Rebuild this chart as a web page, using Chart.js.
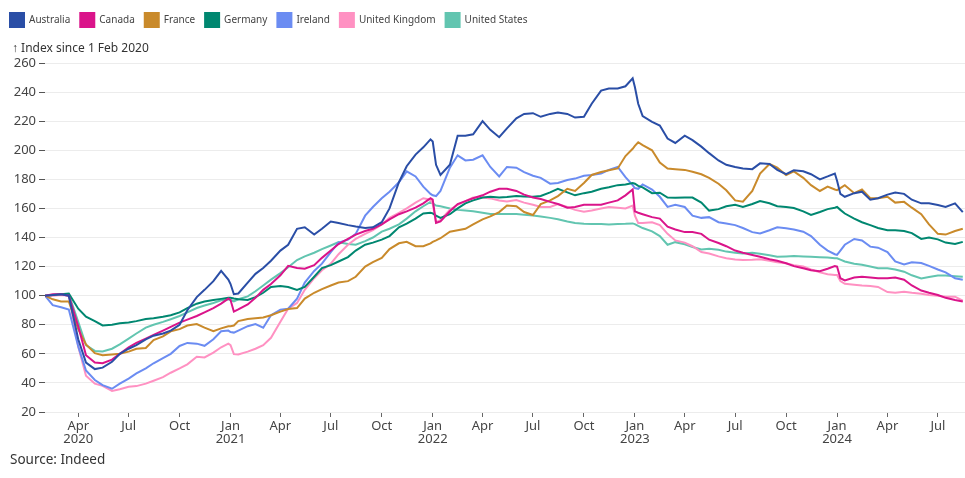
<!DOCTYPE html>
<html>
<head>
<meta charset="utf-8">
<script src="https://cdn.jsdelivr.net/npm/chart.js@4.4.1/dist/chart.umd.min.js"></script>
<style>
  html, body { margin: 0; padding: 0; background: #fff; }
  #wrap { width: 965px; height: 478px; position: relative; }
</style>
</head>
<body>
<div id="wrap"><canvas id="grafik"></canvas></div>
<script>
const countries = ['Australia', 'Canada', 'France', 'Germany', 'Ireland', 'United Kingdom', 'United States'];
const colors = ['#2a4ea6', '#da148a', '#c98a2b', '#008770', '#6b8cf2', '#ff91c2', '#62c5b0'];

const dates = [
  '2020-02-01','2020-02-15','2020-03-01','2020-03-15','2020-04-01','2020-04-15','2020-05-01','2020-05-15','2020-06-01','2020-06-15',
  '2020-07-01','2020-07-15','2020-08-01','2020-08-15','2020-09-01','2020-09-15','2020-10-01','2020-10-15','2020-11-01','2020-11-15',
  '2020-12-01','2020-12-15','2020-12-28',
  '2021-01-01','2021-01-07','2021-01-15','2021-02-01','2021-02-15','2021-03-01','2021-03-15','2021-04-01','2021-04-15','2021-05-01',
  '2021-05-15','2021-06-01','2021-06-15','2021-07-01','2021-07-15','2021-08-01','2021-08-15','2021-09-01','2021-09-15','2021-10-01',
  '2021-10-15','2021-11-01','2021-11-15','2021-12-01','2021-12-15','2021-12-28',
  '2022-01-01','2022-01-07','2022-01-15','2022-02-01','2022-02-15','2022-03-01','2022-03-15','2022-04-01','2022-04-15','2022-05-01',
  '2022-05-15','2022-06-01','2022-06-15','2022-07-01','2022-07-15','2022-08-01','2022-08-15','2022-09-01','2022-09-15','2022-10-01',
  '2022-10-15','2022-11-01','2022-11-15','2022-12-01','2022-12-15','2022-12-28',
  '2023-01-01','2023-01-07','2023-01-15','2023-02-01','2023-02-15','2023-03-01','2023-03-15','2023-04-01','2023-04-15','2023-05-01',
  '2023-05-15','2023-06-01','2023-06-15','2023-07-01','2023-07-15','2023-08-01','2023-08-15','2023-09-01','2023-09-15','2023-10-01',
  '2023-10-15','2023-11-01','2023-11-15','2023-12-01','2023-12-15','2023-12-28',
  '2024-01-01','2024-01-07','2024-01-15','2024-02-01','2024-02-15','2024-03-01','2024-03-15','2024-04-01','2024-04-15','2024-05-01',
  '2024-05-15','2024-06-01','2024-06-15','2024-07-01','2024-07-15','2024-08-01','2024-08-15'
];

const australia = [
  100, 100.5, 101, 100, 70, 54, 49.5, 50.5, 54.5, 60, 63.5, 66, 70, 72.5, 74, 76, 80, 90, 99, 104, 110, 117, 111,
  108, 101, 101.5, 109, 115, 119, 124, 131, 135, 146, 147, 142, 146, 151, 150, 148.5, 147.5, 146.5, 147, 150.5, 160, 178, 189, 197, 202, 207.5,
  206, 190, 183, 190, 210, 210, 211, 220, 214, 209, 215, 222, 225, 225.5, 223, 225, 226, 225, 222.5, 223, 232, 241, 242.5, 242.5, 244, 249.5,
  243.5, 232, 223.5, 219.5, 217, 208, 205, 210, 207, 202.5, 198, 193, 190, 188.5, 187.5, 187, 191, 190.5, 186.5, 183.5, 186.3, 185.5, 183.5, 180, 182, 184,
  179, 170, 168, 170.5, 171.5, 166, 167, 169.5, 171, 170, 166, 163.5, 163.5, 162.3, 161, 163.5, 157.5
];
const canada = [
  100, 101, 101, 100, 79, 59, 54, 53.5, 56, 60, 64.5, 67.5, 70.5, 73, 76, 78.5, 81.5, 83.5, 86, 88.5, 91.5, 94.5, 98,
  97, 89, 90.5, 94, 98.5, 104, 108, 114, 120.5, 119, 118.5, 121, 126, 131, 135.5, 139, 142, 144.5, 146, 149, 152.5, 156, 158, 160.5, 163.5, 167,
  166, 150, 151, 158, 163, 165, 167, 169, 171.5, 173.5, 173.5, 172, 169.5, 167.5, 166.5, 164.5, 163, 160.5, 161, 162.5, 162.5, 162.5, 164, 165.5, 169, 173,
  158, 157, 156, 154, 153, 147.5, 145.5, 143.7, 143.7, 142.5, 138.5, 136.2, 134, 131, 129.5, 128, 126.8, 125, 124, 122.3, 120.3, 118.8, 117.5, 116.8, 118.5, 120.3,
  120, 112, 110.5, 112.5, 113, 112.5, 112, 112, 112.5, 111, 107, 103.5, 102, 100.5, 98.5, 97, 96
];
const france = [
  100, 97.5, 96, 96, 77, 66.5, 60.5, 59, 59.5, 60, 61.5, 63.5, 64, 69.5, 72, 75.5, 77, 79.5, 80.5, 78, 75.5, 77.5, 79,
  79, 79.5, 82.5, 84, 84.5, 85, 86.5, 89, 90.8, 91.5, 98, 102, 104.5, 107, 109, 110, 113, 120, 123, 126, 132, 136, 137, 134, 134, 136,
  137, 138, 139.5, 144, 145, 146, 149, 152.5, 154.5, 157.5, 162, 161.5, 157.5, 155.5, 163, 165.5, 168.5, 173.5, 172, 177.5, 183, 185, 186.3, 187.5, 196, 201,
  203, 205.5, 203.5, 200, 191.5, 187.5, 187, 186.5, 185.2, 183.5, 181, 177, 172.5, 165.5, 164.6, 172, 184, 190.5, 188, 183, 185.5, 181, 176, 172, 175, 173,
  172.6, 174, 176, 170.5, 173, 167, 167, 168, 164, 164.5, 160.5, 156, 149, 142.5, 142, 144.5, 146
];
const germany = [
  100, 100.5, 101, 101.5, 91, 85.5, 82.5, 79.5, 80, 81, 81.5, 82.5, 84, 84.5, 85.5, 86.5, 88.5, 91.5, 94.5, 96, 97, 97.8, 98.5,
  98.6, 98, 97.5, 97, 99, 102, 106, 106.6, 106, 104, 106, 113, 119, 121, 123.5, 126.5, 131, 135, 136.5, 138.5, 141, 147, 149.5, 153, 156.5, 157,
  156.6, 155, 153.5, 156, 160, 163.5, 165.5, 167.5, 168, 167.5, 167.8, 168.5, 168.2, 168, 168.5, 171, 173.5, 171, 169, 170.5, 171.5, 173.5, 174.5, 176, 176.5, 177.5,
  177, 175.5, 174.5, 170.5, 170.8, 167.5, 167.4, 167.5, 167.5, 164, 158.5, 159.5, 161.5, 162.5, 161, 163, 165, 163.5, 161.5, 161, 160.3, 158, 155.5, 157.5, 159.5, 160.5,
  161, 159, 156.5, 153, 150.5, 148.5, 146.5, 145, 145, 144.5, 143, 139, 140, 138.7, 136.5, 135.5, 137
];
const ireland = [
  100, 93.5, 92, 90.5, 65, 48.5, 42, 38.5, 36, 39.5, 43, 46.5, 50, 53.5, 57, 60, 65.4, 67.5, 67, 65.5, 70, 75.5, 76,
  75, 74.6, 76, 79, 80.5, 78, 86.5, 90.4, 91, 98, 109, 117, 122, 130, 136.5, 138.5, 142.5, 155, 161, 167, 171.5, 178, 185.5, 182, 175, 170,
  169, 168.5, 172, 188, 196.5, 193, 193.5, 196.5, 188.5, 182, 188.5, 188, 185, 182.5, 181, 177, 177.5, 179.5, 180.5, 182.5, 183, 184, 186.5, 188.6, 181.5, 176,
  174, 173.5, 176.5, 173, 168, 161, 162.5, 161, 155, 153.5, 154, 150.5, 149.7, 148.5, 146.5, 143.7, 142.8, 145, 147, 146.4, 145.5, 144, 141, 135, 131, 128.5,
  128, 131, 135, 139, 138, 133.7, 133, 130, 123.5, 121.5, 123, 122.5, 120.5, 118, 116, 112, 111
];
const unitedKingdom = [
  100, 100, 100.5, 100, 65, 45, 39.5, 38, 34.5, 35.7, 37.3, 37.8, 39.5, 41.5, 44, 47, 50, 52.8, 58, 57.5, 60.8, 64.5, 67,
  66, 59.8, 59.5, 61.5, 63.5, 66, 71, 82, 91, 95, 104, 112, 117.5, 122, 128.5, 135, 139, 142.5, 145, 149, 153.5, 157, 160, 164, 167, 166,
  163, 150.5, 152, 159, 162.5, 165, 167.5, 167.5, 166.9, 165.5, 164.8, 165.7, 164, 162.5, 161, 161, 163, 161, 159, 157.7, 158.5, 160, 161, 160.5, 160, 162,
  155, 150, 150, 150.5, 148.5, 142.5, 138, 136.5, 134, 130, 129, 127, 125.8, 124.8, 124.5, 124.7, 125, 124, 123, 122.3, 121, 120, 118, 116, 114.8, 114.2,
  114.2, 110, 108.2, 107.5, 107, 106.6, 106, 102.5, 102, 102.7, 102, 101.3, 100.5, 100, 99.3, 99.3, 96.5
];
const unitedStates = [
  100, 100.5, 101, 101, 82, 66, 62, 61.6, 63.5, 66.5, 70.5, 74, 78, 80, 82, 83.8, 86, 88.5, 91.5, 93.2, 95, 96.8, 97.5,
  97, 96, 97.5, 99.5, 103, 107, 111, 115.5, 119.5, 124.5, 127, 129.5, 132, 134.5, 136.8, 135.5, 135, 137.5, 140, 144, 146, 149, 153, 158, 161.5, 164.5,
  163.5, 162, 161.5, 160, 159, 158.5, 158, 157, 156.2, 156.1, 156.1, 156.1, 155.7, 155.2, 154.5, 153.5, 152.5, 151, 150, 149.5, 149.2, 149.2, 149, 149.2, 149.4, 149.7,
  149.2, 148, 146.5, 144.2, 141, 135, 136.8, 135.3, 133.5, 131.8, 132.3, 131.5, 130.3, 129.5, 129, 129.5, 128.8, 127.8, 126.8, 127, 127.2, 127, 126.8, 126.5, 126.2, 125.8,
  125.7, 124.8, 123.5, 122, 121.2, 120, 118.8, 118.8, 118, 116.5, 114, 111.9, 112.8, 113.8, 113.8, 113.3, 113
];

const tickDates = ['2020-04-01','2020-07-01','2020-10-01','2021-01-01','2021-04-01','2021-07-01','2021-10-01','2022-01-01',
  '2022-04-01','2022-07-01','2022-10-01','2023-01-01','2023-04-01','2023-07-01','2023-10-01','2024-01-01','2024-04-01','2024-07-01'];
const tickLabels = [['Apr','2020'],'Jul','Oct',['Jan','2021'],'Apr','Jul','Oct',['Jan','2022'],
  'Apr','Jul','Oct',['Jan','2023'],'Apr','Jul','Oct',['Jan','2024'],'Apr','Jul'];

const startDate = '2020-02-01';
const endDate = '2024-08-19';
const axisNote = '\u2191 Index since 1 Feb 2020';
const sourceNote = 'Source: Indeed';

const FONT = '"Noto Sans", "Open Sans", sans-serif';

// hari sejak 1 Feb 2020
function hari(s) {
  const p = s.split('-').map(Number);
  return (Date.UTC(p[0], p[1] - 1, p[2]) - Date.UTC(2020, 1, 1)) / 86400000;
}

const semuaSeri = [australia, canada, france, germany, ireland, unitedKingdom, unitedStates];

const datasets = countries.map((nama, i) => ({
  label: nama,
  data: dates.map((d, j) => ({ x: hari(d), y: semuaSeri[i][j] })),
  borderColor: colors[i],
  backgroundColor: colors[i],
  borderWidth: 2,
  pointRadius: 0,
  tension: 0,
  fill: false
}));

const catatan = {
  id: 'catatan',
  beforeLayout(chart) {
    const lg = chart.legend;
    if (lg && !lg._tinggiTetap) {
      const fitAsli = lg.fit;
      lg.fit = function () { fitAsli.call(this); this.height = 60; };
      lg._tinggiTetap = true;
    }
  },
  afterDraw(chart) {
    const ctx = chart.ctx;
    ctx.save();
    ctx.fillStyle = '#333';
    ctx.textBaseline = 'middle';
    ctx.textAlign = 'left';
    ctx.font = '12px ' + FONT;
    ctx.fillText(axisNote, 12, 49);
    ctx.font = '13.5px ' + FONT;
    ctx.fillText(sourceNote, 10, 460);
    ctx.restore();
  }
};

const ctx = document.getElementById('grafik').getContext('2d');
new Chart(ctx, {
  type: 'line',
  data: { datasets },
  plugins: [catatan],
  options: {
    responsive: true,
    maintainAspectRatio: false,
    animation: false,
    layout: { padding: { top: 3, left: 0, right: 0, bottom: 26 } },
    plugins: {
      legend: {
        position: 'top',
        align: 'start',
        labels: {
          boxWidth: 14,
          boxHeight: 14,
          padding: 10,
          color: '#444',
          font: { family: FONT, size: 10 }
        }
      },
      tooltip: { enabled: false }
    },
    scales: {
      x: {
        type: 'linear',
        min: hari(startDate),
        max: hari(endDate),
        afterBuildTicks: axis => { axis.ticks = tickDates.map(d => ({ value: hari(d) })); },
        afterFit: scale => { scale.height = 40; },
        grid: { drawOnChartArea: false, tickLength: 5, tickColor: '#666', lineWidth: 1 },
        border: { display: false },
        ticks: {
          autoSkip: false,
          maxRotation: 0,
          padding: 3,
          color: '#444',
          font: { family: FONT, size: 13, lineHeight: 1 },
          callback: (v, i) => tickLabels[i]
        }
      },
      y: {
        min: 20,
        max: 260,
        afterFit: scale => { scale.width = 45; },
        grid: { color: '#ececec', tickColor: '#555', tickLength: 6, lineWidth: 1 },
        border: { display: false },
        ticks: {
          stepSize: 20,
          padding: 3,
          color: '#444',
          font: { family: FONT, size: 13 }
        }
      }
    }
  }
});
</script>
</body>
</html>
